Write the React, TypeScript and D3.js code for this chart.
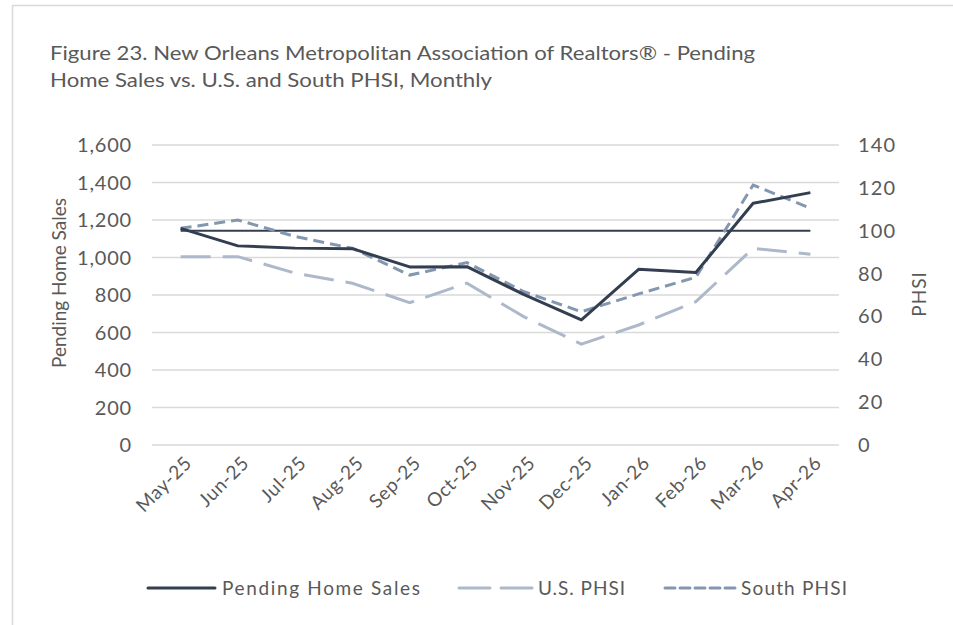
import React from "react";
import * as d3 from "d3";

const months = ["May-25","Jun-25","Jul-25","Aug-25","Sep-25","Oct-25","Nov-25","Dec-25","Jan-26","Feb-26","Mar-26","Apr-26"];
const pendingSales = [1155, 1062, 1050, 1047, 950, 951, 802, 667, 937, 920, 1289, 1346];
const usPHSI = [87.9, 87.9, 80.2, 75.5, 66.4, 75.5, 59.8, 47.1, 56.0, 66.9, 91.8, 89.0];
const southPHSI = [101.1, 105.0, 97.3, 91.8, 79.3, 85.1, 71.5, 62.2, 70.5, 78.3, 121.3, 110.5];
const baselinePHSI = 100;
const leftTicks = [0, 200, 400, 600, 800, 1000, 1200, 1400, 1600];
const rightTicks = [0, 20, 40, 60, 80, 100, 120, 140];

const FONT = "Lato, 'Open Sans', sans-serif";
const TXT = "#595959";

export default function App() {
  const W = 953, H = 625;
  const left = 152, right = 839, top = 145, bottom = 445;
  const x = d3.scalePoint<string>().domain(months).range([left, right]).padding(0.5);
  const yL = d3.scaleLinear().domain([0, 1600]).range([bottom, top]);
  const yR = d3.scaleLinear().domain([0, 140]).range([bottom, top]);

  const lineL = d3.line<number>().x((_, i) => x(months[i])!).y((d) => yL(d));
  const lineR = d3.line<number>().x((_, i) => x(months[i])!).y((d) => yR(d));

  const colPending = "#333F50";
  const colUS = "#ADB9CA";
  const colSouth = "#8497B0";

  return (
    <svg width={W} height={H} style={{ position: "absolute", left: 0, top: 0, background: "#fff" }}>
      <rect x={12.5} y={5.5} width={W} height={H} fill="#fff" stroke="#d9d9d9" strokeWidth={1.5} />
      <text x={50} y={60} fontFamily={FONT} fontSize={20} fill={TXT} textLength={705} lengthAdjust="spacingAndGlyphs">
        Figure 23. New Orleans Metropolitan Association of Realtors® - Pending
      </text>
      <text x={50} y={87} fontFamily={FONT} fontSize={20} fill={TXT} textLength={442} lengthAdjust="spacingAndGlyphs">
        Home Sales  vs. U.S. and South PHSI, Monthly
      </text>

      {leftTicks.map((t) => (
        <g key={"g" + t}>
          <line x1={left} x2={right} y1={yL(t)} y2={yL(t)} stroke="#d9d9d9" strokeWidth={1.5} />
          <text x={132} y={yL(t)} dy="0.35em" textAnchor="end" fontFamily={FONT} fontSize={20} letterSpacing={0.8} fill={TXT}>
            {d3.format(",")(t)}
          </text>
        </g>
      ))}
      {rightTicks.map((t) => (
        <text key={"r" + t} x={858} y={yR(t)} dy="0.35em" textAnchor="start" fontFamily={FONT} fontSize={20} letterSpacing={1.2} fill={TXT}>
          {t}
        </text>
      ))}
      <text transform={`translate(58,283) rotate(-90)`} textAnchor="middle" dominantBaseline="central" fontFamily={FONT} fontSize={19} fill={TXT}>
        Pending Home Sales
      </text>
      <text transform={`translate(918,294) rotate(-90)`} textAnchor="middle" dominantBaseline="central" fontFamily={FONT} fontSize={19} letterSpacing={1} fill={TXT}>
        PHSI
      </text>

      {months.map((m) => (
        <text key={m} transform={`translate(${x(m)! + 7},${459}) rotate(-45)`} textAnchor="end" dominantBaseline="central" fontFamily={FONT} fontSize={19} letterSpacing={0.6} fill={TXT}>
          {m}
        </text>
      ))}

      <line x1={x(months[0])!} x2={x(months[months.length - 1])!} y1={yR(baselinePHSI)} y2={yR(baselinePHSI)} stroke={colPending} strokeWidth={2} />
      <path d={lineR(usPHSI)!} fill="none" stroke={colUS} strokeWidth={3} strokeDasharray="30 12" />
      <path d={lineR(southPHSI)!} fill="none" stroke={colSouth} strokeWidth={3} strokeDasharray="11 6" />
      <path d={lineL(pendingSales)!} fill="none" stroke={colPending} strokeWidth={3} strokeLinejoin="round" />

      <g fontFamily={FONT} fontSize={19} fill={TXT}>
        <line x1={148} x2={215} y1={588} y2={588} stroke={colPending} strokeWidth={3} strokeLinecap="round" />
        <text x={222} y={588} dy="0.35em" textLength={198} lengthAdjust="spacing">Pending Home Sales</text>
        <line x1={459} x2={532} y1={588} y2={588} stroke={colUS} strokeWidth={3} strokeDasharray="31 11" strokeLinecap="round" />
        <text x={538} y={588} dy="0.35em" textLength={87} lengthAdjust="spacing">U.S. PHSI</text>
        <line x1={665} x2={735} y1={588} y2={588} stroke={colSouth} strokeWidth={3} strokeDasharray="10 5" strokeLinecap="round" />
        <text x={741} y={588} dy="0.35em" textLength={106} lengthAdjust="spacing">South PHSI</text>
      </g>
    </svg>
  );
}
